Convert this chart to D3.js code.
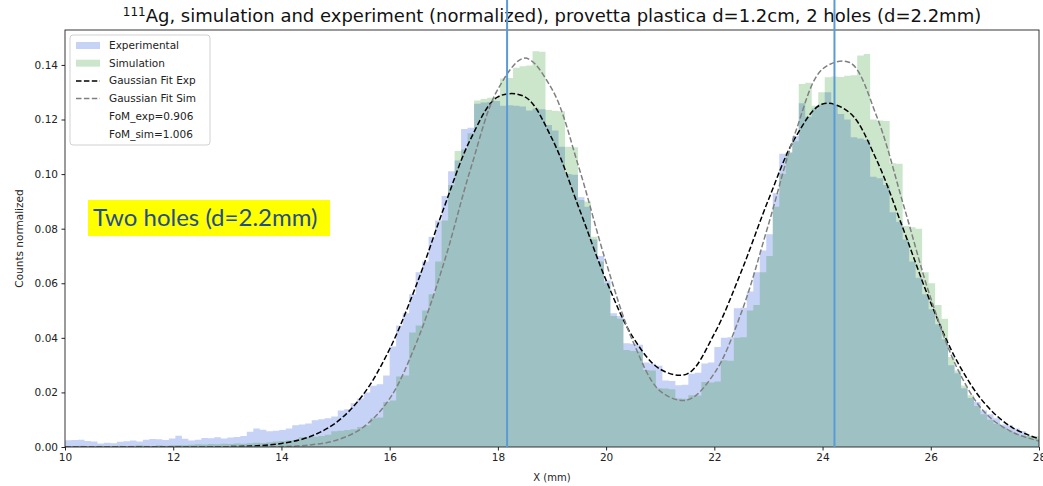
<!DOCTYPE html>
<html>
<head>
<meta charset="utf-8">
<script src="https://cdn.jsdelivr.net/npm/d3@7"></script>
<style>
  body { margin: 0; background: #fff; }
  text { font-family: "DejaVu Sans", sans-serif; }
</style>
</head>
<body>
<div id="chart"></div>
<script>
// histogram binning (mm)
var binStart = 10, binWidth = 0.12;

// Experimental counts (normalized), one value per bin
var expCounts = [
  0.0025, 0.0026, 0.0027, 0.0022, 0.0020, 0.0013, 0.0016, 0.0014, 0.0019, 0.0021,
  0.0024, 0.0020, 0.0027, 0.0029, 0.0028, 0.0026, 0.0031, 0.0041, 0.0030, 0.0024,
  0.0027, 0.0033, 0.0032, 0.0036, 0.0031, 0.0035, 0.0037, 0.0040, 0.0056, 0.0068,
  0.0063, 0.0058, 0.0060, 0.0062, 0.0068, 0.0080, 0.0082, 0.0086, 0.0098, 0.0102,
  0.0105, 0.0112, 0.0134, 0.0138, 0.0160, 0.0178, 0.0200, 0.0224, 0.0230, 0.0262,
  0.0368, 0.0445, 0.0490, 0.0560, 0.0640, 0.0680, 0.0770, 0.0830, 0.0920, 0.1010,
  0.1050, 0.1165, 0.1170, 0.1258, 0.1262, 0.1264, 0.1268, 0.1250, 0.1252, 0.1250,
  0.1248, 0.1233, 0.1240, 0.1238, 0.1180, 0.1160, 0.1100, 0.1000, 0.0998, 0.0915,
  0.0880, 0.0760, 0.0700, 0.0610, 0.0490, 0.0480, 0.0380, 0.0378, 0.0375, 0.0310,
  0.0305, 0.0298, 0.0244, 0.0242, 0.0226, 0.0228, 0.0268, 0.0272, 0.0306, 0.0310,
  0.0366, 0.0400, 0.0402, 0.0508, 0.0510, 0.0570, 0.0640, 0.0720, 0.0780, 0.0930,
  0.1075, 0.1078, 0.1140, 0.1260, 0.1210, 0.1240, 0.1255, 0.1300, 0.1255, 0.1220,
  0.1200, 0.1135, 0.1130, 0.1125, 0.0990, 0.0985, 0.0960, 0.0860, 0.0825, 0.0760,
  0.0680, 0.0620, 0.0560, 0.0505, 0.0450, 0.0395, 0.0300, 0.0270, 0.0215, 0.0180,
  0.0165, 0.0134, 0.0120, 0.0105, 0.0082, 0.0080, 0.0068, 0.0058, 0.0040, 0.0030
];

// Simulation counts (normalized), one value per bin
var simCounts = [
  0.0004, 0.0003, 0.0005, 0.0004, 0.0003, 0.0005, 0.0004, 0.0003, 0.0005, 0.0004,
  0.0005, 0.0006, 0.0005, 0.0004, 0.0006, 0.0005, 0.0006, 0.0007, 0.0006, 0.0008,
  0.0010, 0.0009, 0.0011, 0.0010, 0.0012, 0.0011, 0.0013, 0.0012, 0.0014, 0.0016,
  0.0015, 0.0017, 0.0020, 0.0022, 0.0024, 0.0026, 0.0036, 0.0037, 0.0038, 0.0040,
  0.0045, 0.0058, 0.0060, 0.0062, 0.0065, 0.0073, 0.0080, 0.0105, 0.0108, 0.0165,
  0.0170, 0.0258, 0.0262, 0.0420, 0.0445, 0.0500, 0.0560, 0.0680, 0.0830, 0.0960,
  0.1085, 0.1090, 0.1150, 0.1270, 0.1275, 0.1280, 0.1283, 0.1350, 0.1352, 0.1390,
  0.1395, 0.1398, 0.1450, 0.1448, 0.1235, 0.1232, 0.1230, 0.1100, 0.1098, 0.0905,
  0.0900, 0.0770, 0.0680, 0.0600, 0.0480, 0.0470, 0.0355, 0.0352, 0.0350, 0.0282,
  0.0280, 0.0215, 0.0214, 0.0212, 0.0178, 0.0177, 0.0190, 0.0189, 0.0238, 0.0236,
  0.0240, 0.0318, 0.0316, 0.0400, 0.0402, 0.0500, 0.0520, 0.0640, 0.0700, 0.0880,
  0.1000, 0.1080, 0.1120, 0.1330, 0.1335, 0.1250, 0.1300, 0.1355, 0.1358, 0.1356,
  0.1360, 0.1362, 0.1435, 0.1440, 0.1200, 0.1196, 0.1195, 0.1040, 0.1038, 0.0810,
  0.0805, 0.0800, 0.0640, 0.0600, 0.0520, 0.0470, 0.0330, 0.0280, 0.0225, 0.0190,
  0.0150, 0.0120, 0.0100, 0.0085, 0.0072, 0.0060, 0.0048, 0.0042, 0.0041, 0.0040
];

// Gaussian fits, sampled every 0.5 mm
var fitX = [10, 10.5, 11, 11.5, 12, 12.5, 13, 13.5, 14, 14.5, 15, 15.5, 16, 16.5, 17, 17.5, 18, 18.5, 19,
            19.5, 20, 20.5, 21, 21.5, 22, 22.5, 23, 23.5, 24, 24.5, 25, 25.5, 26, 26.5, 27, 27.5, 28];
var fitExp = [0, 0, 0, 0, 0.00001, 0.00003, 0.00012, 0.0004, 0.0013, 0.0036, 0.0088, 0.0189, 0.0359,
              0.0597, 0.0875, 0.1130, 0.1283, 0.1283, 0.1130, 0.0875, 0.0611, 0.0401, 0.0285, 0.0268,
              0.0415, 0.0644, 0.0906, 0.1135, 0.1257, 0.1225, 0.1051, 0.0794, 0.0528, 0.0309, 0.0159,
              0.0072, 0.0030];
var fitSim = [0, 0, 0, 0, 0, 0, 0.00001, 0.00003, 0.00017, 0.00069, 0.0024, 0.0071, 0.0177,
              0.0385, 0.0673, 0.1022, 0.1311, 0.1425, 0.1311, 0.1022, 0.0676, 0.0385, 0.0205, 0.0172,
              0.0270, 0.0493, 0.0815, 0.1154, 0.1385, 0.1409, 0.1212, 0.0884, 0.0545, 0.0284, 0.0126,
              0.0055, 0.0022];

var xTicks = [10, 12, 14, 16, 18, 20, 22, 24, 26, 28];
var yTicks = [0, 0.02, 0.04, 0.06, 0.08, 0.10, 0.12, 0.14];
var markerX = [18.17, 24.22];   // vertical guide lines
var legendLabels = ["Experimental", "Simulation", "Gaussian Fit Exp", "Gaussian Fit Sim", "FoM_exp=0.906", "FoM_sim=1.006"];

var margin = {top: 30, right: 4, bottom: 39, left: 65},
    width = 1043 - margin.left - margin.right,
    height = 486 - margin.top - margin.bottom;

var svgRoot = d3.select("#chart")
  .append("svg")
    .attr("width", 1043)
    .attr("height", 486);

var svg = svgRoot.append("g")
    .attr("transform", "translate(" + margin.left + "," + margin.top + ")");

var x = d3.scaleLinear().domain([10, 28]).range([0, width]);
var y = d3.scaleLinear().domain([0, 0.1528]).range([height, 0]);

svg.append("clipPath").attr("id", "clip")
  .append("rect").attr("width", width).attr("height", height);

var plot = svg.append("g").attr("clip-path", "url(#clip)");

// step areas for the histograms
function stepData(counts) {
  var pts = counts.map(function(v, i) { return {x: binStart + i * binWidth, v: v}; });
  pts.push({x: binStart + counts.length * binWidth, v: counts[counts.length - 1]});
  return pts;
}
var histArea = d3.area()
  .curve(d3.curveStepAfter)
  .x(function(d) { return x(d.x); })
  .y0(y(0))
  .y1(function(d) { return y(d.v); });

plot.append("path")
  .datum(stepData(expCounts))
  .attr("d", histArea)
  .attr("fill", "royalblue")
  .attr("fill-opacity", 0.3);

plot.append("path")
  .datum(stepData(simCounts))
  .attr("d", histArea)
  .attr("fill", "green")
  .attr("fill-opacity", 0.2);

// fits
var fitLine = d3.line()
  .curve(d3.curveCatmullRom.alpha(0.5))
  .x(function(d) { return x(d[0]); })
  .y(function(d) { return y(d[1]); });

plot.append("path")
  .datum(d3.zip(fitX, fitExp))
  .attr("d", fitLine)
  .attr("fill", "none")
  .attr("stroke", "black")
  .attr("stroke-width", 1.5)
  .attr("stroke-dasharray", "5.5,2.4");

plot.append("path")
  .datum(d3.zip(fitX, fitSim))
  .attr("d", fitLine)
  .attr("fill", "none")
  .attr("stroke", "gray")
  .attr("stroke-width", 1.5)
  .attr("stroke-dasharray", "5.5,2.4");

// axes
var xAxis = svg.append("g")
  .attr("transform", "translate(0," + height + ")")
  .call(d3.axisBottom(x).tickValues(xTicks).tickSize(3.5).tickPadding(3.5));
var yAxis = svg.append("g")
  .call(d3.axisLeft(y).tickValues(yTicks).tickFormat(d3.format(".2f")).tickSize(3.5).tickPadding(3.5));
[xAxis, yAxis].forEach(function(a) {
  a.select(".domain").remove();
  a.selectAll("text").style("font-family", "DejaVu Sans").style("font-size", "10.5px").attr("fill", "#222");
  a.selectAll("line").attr("stroke", "#222");
});

// frame
svg.append("rect")
  .attr("width", width).attr("height", height)
  .attr("fill", "none").attr("stroke", "#222").attr("stroke-width", 0.9);

// labels
svg.append("text")
  .attr("x", width / 2).attr("y", height + 34)
  .attr("text-anchor", "middle").style("font-size", "10px").attr("fill", "#222")
  .text("X (mm)");

svg.append("text")
  .attr("transform", "translate(" + (-42) + "," + (height / 2) + ") rotate(-90)")
  .attr("text-anchor", "middle").style("font-size", "10.5px").attr("fill", "#222")
  .text("Counts normalized");

var title = svgRoot.append("text")
  .attr("x", margin.left + width / 2).attr("y", 22)
  .attr("text-anchor", "middle").style("font-size", "18px").attr("fill", "#111");
title.append("tspan").attr("dy", "-6").style("font-size", "12px").text("111");
title.append("tspan").attr("dy", "6").text("Ag, simulation and experiment (normalized), provetta plastica d=1.2cm, 2 holes (d=2.2mm)");

// legend
var legend = svg.append("g").attr("transform", "translate(5,5)");
legend.append("rect")
  .attr("width", 140).attr("height", 110).attr("rx", 3)
  .attr("fill", "white").attr("fill-opacity", 0.8)
  .attr("stroke", "#ccc").attr("stroke-width", 0.9);

var rows = legend.selectAll(".row")
  .data(legendLabels)
  .enter().append("g")
    .attr("transform", function(d, i) { return "translate(0," + (10 + i * 17.7) + ")"; });

rows.append("text")
  .attr("x", 39).attr("y", 4)
  .style("font-size", "10.5px").attr("fill", "#222")
  .text(function(d) { return d; });

rows.filter(function(d, i) { return i < 2; })
  .append("rect")
  .attr("x", 6).attr("y", -3).attr("width", 24).attr("height", 7)
  .attr("fill", function(d, i) { return i === 0 ? "royalblue" : "green"; })
  .attr("fill-opacity", function(d, i) { return i === 0 ? 0.3 : 0.2; });

rows.filter(function(d, i) { return i === 2 || i === 3; })
  .append("line")
  .attr("x1", 6).attr("x2", 30).attr("y1", 0.5).attr("y2", 0.5)
  .attr("stroke", function(d, i) { return i === 0 ? "black" : "gray"; })
  .attr("stroke-width", 1.5)
  .attr("stroke-dasharray", "5.5,2.4");

// guide lines drawn over the figure
svgRoot.selectAll(".guide")
  .data(markerX)
  .enter().append("line")
    .attr("x1", function(d) { return margin.left + x(d); })
    .attr("x2", function(d) { return margin.left + x(d); })
    .attr("y1", 0)
    .attr("y2", margin.top + height)
    .attr("stroke", "#5b9bd5")
    .attr("stroke-width", 2);

// annotation box
var note = svgRoot.append("g").attr("transform", "translate(88,200)");
note.append("rect").attr("width", 242).attr("height", 36).attr("fill", "#ffff00");
note.append("text")
  .attr("x", 5).attr("y", 26)
  .style("font-family", "Lato, 'Open Sans', sans-serif").style("font-size", "24px")
  .attr("fill", "#1f4e8c")
  .text("Two holes (d=2.2mm)");
</script>
</body>
</html>
